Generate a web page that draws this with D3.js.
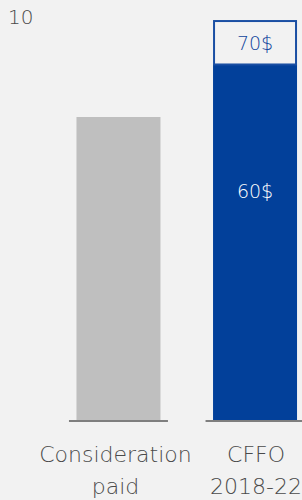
<!DOCTYPE html>
<html>
<head>
<meta charset="utf-8">
<script src="https://cdn.jsdelivr.net/npm/d3@7"></script>
<style>
  html, body { margin: 0; padding: 0; background: #f2f2f2; }
  svg { display: block; }
  text { font-family: "DejaVu Sans", sans-serif; }
</style>
</head>
<body>
<svg id="chart" width="302" height="500"></svg>
<script>
// ---- data ----
const categories = ["Consideration paid", "CFFO 2018-22"];
const categoryLines = [["Consideration", "paid"], ["CFFO", "2018-22"]];
const considerationValues = [7.5, 0];   // grey bar
const cffo60Values = [0, 8.8];          // solid blue segment (60$)
const cffo70Values = [0, 1.1];          // outlined increment (70$)
const segmentLabels = ["60$", "70$"];
const axisTicks = [10];

// ---- layout ----
const W = 302, H = 500;
const svg = d3.select("#chart");
svg.append("rect").attr("width", W).attr("height", H).attr("fill", "#f2f2f2");

const x = d3.scaleBand()
  .domain(categories)
  .range([35.5, 338])
  .paddingInner(0.385)
  .paddingOuter(0.3);

const y = d3.scaleLinear().domain([0, 10]).range([420, 16]);

// y tick label (only top value shown)
svg.selectAll(".ytick").data(axisTicks).enter().append("text")
  .attr("class", "ytick")
  .attr("x", 8)
  .attr("y", d => y(d) + 8)
  .attr("font-size", 20)
  .attr("font-weight", 200)
  .attr("fill", "#4a4a4a")
  .text(d => d);

const bw = x.bandwidth();

// grey bars
svg.selectAll(".grey").data(categories.filter((c, i) => considerationValues[i] > 0)).enter()
  .append("rect")
  .attr("x", d => x(d))
  .attr("width", bw)
  .attr("y", d => y(considerationValues[categories.indexOf(d)]))
  .attr("height", d => y(0) - y(considerationValues[categories.indexOf(d)]))
  .attr("fill", "#bfbfbf");

// blue solid segment
svg.selectAll(".blue").data(categories.filter((c, i) => cffo60Values[i] > 0)).enter()
  .append("rect")
  .attr("x", d => x(d))
  .attr("width", bw)
  .attr("y", d => y(cffo60Values[categories.indexOf(d)]))
  .attr("height", d => y(0) - y(cffo60Values[categories.indexOf(d)]))
  .attr("fill", "#02409a");

// outlined increment segment
svg.selectAll(".outl").data(categories.filter((c, i) => cffo70Values[i] > 0)).enter()
  .append("rect")
  .attr("x", d => x(d) + 1)
  .attr("width", bw - 2)
  .attr("y", d => { const i = categories.indexOf(d); return y(cffo60Values[i] + cffo70Values[i]) + 1; })
  .attr("height", d => { const i = categories.indexOf(d); return y(cffo60Values[i]) - y(cffo60Values[i] + cffo70Values[i]) - 1; })
  .attr("fill", "#f2f2f2")
  .attr("stroke", "#1a4fa3")
  .attr("stroke-width", 2);

// segment labels
categories.forEach((c, i) => {
  if (cffo60Values[i] > 0) {
    svg.append("text")
      .attr("x", x(c) + bw / 2)
      .attr("y", y(cffo60Values[i]) + 134)
      .attr("text-anchor", "middle")
      .attr("font-size", 19)
      .attr("font-weight", 200)
      .attr("fill", "#ffffff")
      .text(segmentLabels[0]);
    const top = y(cffo60Values[i] + cffo70Values[i]);
    const mid = (top + y(cffo60Values[i])) / 2;
    svg.append("text")
      .attr("x", x(c) + bw / 2)
      .attr("y", mid + 7.5)
      .attr("text-anchor", "middle")
      .attr("font-size", 19)
      .attr("font-weight", 200)
      .attr("fill", "#0f449c")
      .text(segmentLabels[1]);
  }
});

// baseline stubs per category
svg.selectAll(".base").data(categories).enter().append("line")
  .attr("x1", d => x(d) - 7.5)
  .attr("x2", d => x(d) + bw + 7.5)
  .attr("y1", y(0) + 1)
  .attr("y2", y(0) + 1)
  .attr("stroke", "#7f7f7f")
  .attr("stroke-width", 2);

// category labels
categories.forEach((c, i) => {
  const t = svg.append("text")
    .attr("text-anchor", "middle")
    .attr("font-size", 22)
    .attr("font-weight", 200)
    .attr("fill", "#4a4a4a");
  categoryLines[i].forEach((ln, j) => {
    t.append("tspan")
      .attr("x", x(c) + bw / 2 + (i === 0 ? -3 : 1))
      .attr("y", 462 + j * 32)
      .text(ln);
  });
});
</script>
</body>
</html>
